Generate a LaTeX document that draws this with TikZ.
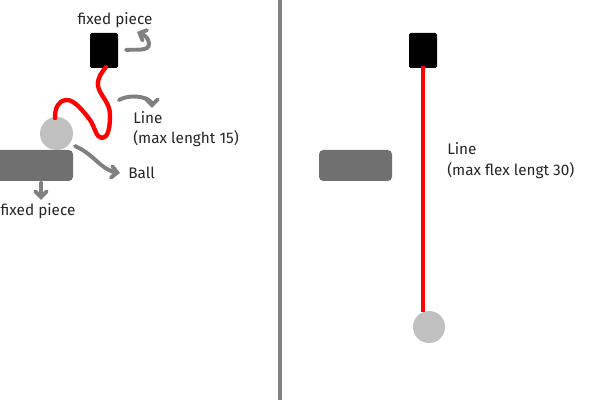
\documentclass[tikz,border=0pt]{standalone}
\usepackage{fontspec}
\setmainfont{Fira Sans}
\usetikzlibrary{arrows.meta}
\definecolor{ballgray}{HTML}{C0C0C0}
\definecolor{bargray}{HTML}{707070}
\definecolor{arrgray}{HTML}{808080}
\definecolor{linered}{HTML}{FF0000}
\tikzset{
  fixedbox/.style={fill=black, rounded corners=1.2pt},
  barbox/.style={fill=bargray, rounded corners=3pt},
  ballshape/.style={fill=ballgray},
  rope/.style={draw=linered, line width=3.1pt, line cap=round, line join=round},
  callout/.style={draw=arrgray, line width=2.8pt, line cap=round, line join=round,
    -{Straight Barb[length=4pt,width=8pt,line cap=round]}},
  lbl/.style={font=\fontsize{10.9}{13}\selectfont, text=black!85, inner sep=0pt, align=left},
}
\begin{document}
\begin{tikzpicture}[x=0.025cm,y=-0.025cm]
\useasboundingbox[fill=white] (0,0) rectangle (600,400);
% divider
\draw[draw=arrgray, line width=2.2pt] (280,0) -- (280,400);

% ---------- left scene ----------
\fill[fixedbox] (90,33) rectangle (118,68);
\coordinate (topL) at (106,67);
\fill[barbox] (-6,150) rectangle (73,181);
\fill[ballshape] (56.5,133.5) circle (16.5);
\coordinate (ballL) at (55,118);
\draw[rope] (ballL) .. controls (55,108) and (58,101) .. (66,100)
  .. controls (74,99) and (84,112) .. (90,120)
  .. controls (95,127) and (96,138) .. (102,138)
  .. controls (108,138) and (110,128) .. (110,115)
  .. controls (110,102) and (100,96) .. (98,86)
  .. controls (97,78) and (102,72) .. (topL);

\node[lbl, anchor=base] (fp1) at (115,25) {fixed piece};
\node[lbl, anchor=base west] (ln1) at (133,124) {Line};
\node[lbl, anchor=base west] (ln2) at (133,144) {(max lenght 15)};
\node[lbl, anchor=base west] (bl) at (128,179) {Ball};
\node[lbl, anchor=base] (fp2) at (38,216) {fixed piece};

\coordinate (a1s) at (126,50);
\coordinate (a1e) at (137,32);
\draw[callout] (a1s) .. controls (136,49) and (150,52) .. (149,43)
  .. controls (148,37) and (144,35) .. (a1e);
\coordinate (a2s) at (119,100);
\coordinate (a2e) at (152,108);
\draw[callout] (a2s) .. controls (128,95) and (140,96) .. (147,99)
  .. controls (151,101) and (152,104) .. (a2e);
\coordinate (a3s) at (75,146);
\coordinate (a3e) at (120,173);
\draw[callout] (a3s) .. controls (86,151) and (92,157) .. (100,164)
  .. controls (106,169) and (112,172) .. (a3e);
\coordinate (a4s) at (41,183);
\coordinate (a4e) at (41,200);
\draw[callout] (a4s) -- (a4e);

% ---------- right scene ----------
\fill[fixedbox] (409,33) rectangle (437,68);
\coordinate (topR) at (423,66);
\fill[ballshape] (429,327) circle (16);
\coordinate (ballR) at (423,312);
\draw[rope, line cap=butt] (topR) -- (ballR);
\fill[barbox] (319,150) rectangle (392,181);
\node[lbl, anchor=base west] (ln3) at (447,155) {Line};
\node[lbl, anchor=base west] (ln4) at (447,176) {(max flex lengt 30)};
\end{tikzpicture}
\end{document}
